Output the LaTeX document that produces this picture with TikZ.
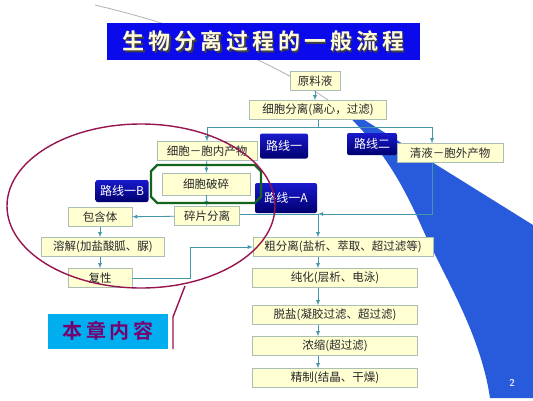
\documentclass[tikz,border=0pt]{standalone}
\usepackage{fontspec}
\newfontfamily\cjk{Noto Sans CJK SC}[BoldFont={Noto Sans CJK SC Bold}]
\newfontfamily\cjktitle{Noto Sans CJK SC Bold}[LetterSpace=18]
\usetikzlibrary{shapes.misc}
\definecolor{boxfill}{RGB}{255,255,210}
\definecolor{boxline}{RGB}{170,190,180}
\definecolor{boxtext}{RGB}{40,40,40}
\definecolor{linkcol}{RGB}{70,150,170}
\definecolor{routetop}{RGB}{25,25,205}
\definecolor{routebot}{RGB}{0,0,110}
\definecolor{ringred}{RGB}{150,20,80}
\definecolor{ringgreen}{RGB}{20,100,30}
\definecolor{swoosh}{RGB}{40,90,220}
\definecolor{titleblue}{RGB}{10,10,235}
\definecolor{titletext}{RGB}{255,250,215}
\definecolor{callout}{RGB}{120,0,110}
\begin{document}
\begin{tikzpicture}[x=1pt,y=-1pt,
  box/.style={draw=boxline,fill=boxfill,minimum height=19pt,inner sep=0pt,text=boxtext,font=\cjk\fontsize{11.5}{13}\selectfont},
  route/.style={top color=routetop,bottom color=routebot,rounded corners=2pt,inner sep=0pt,text=white,font=\cjk\fontsize{12}{13}\selectfont},
  line/.style={draw=linkcol,line width=0.8pt},
  link/.style={line,-latex}]
\useasboundingbox (0,0) rectangle (533,400);
\fill[white] (0,0) rectangle (533,400);
\fill[swoosh] (345,113) .. controls (385,150) and (405,190) .. (420,223) .. controls (440,270) and (480,330) .. (490,398) -- (533,398) -- (533,225) -- (350,111) -- cycle;
\draw[gray!60,line width=0.8pt] (95,5) .. controls (180,25) and (280,60) .. (345,113);
\node[fill=titleblue,minimum width=313pt,minimum height=37pt] (title) at (263.5,41.5) {};
\node[text=black!75,font=\cjktitle\fontsize{22}{24}\selectfont] at ([xshift=1.5pt,yshift=-1.5pt]title.center) {生物分离过程的一般流程};
\node[text=titletext,font=\cjktitle\fontsize{22}{24}\selectfont] at (title.center) {生物分离过程的一般流程};
\node[route,minimum width=48pt,minimum height=25pt] (r1) at (284,146) {路线一};
\node[route,minimum width=50pt,minimum height=22pt] (r2) at (372,144) {路线二};
\node[route,minimum width=53pt,minimum height=22pt] (r1b) at (122,191) {路线一B};
\node[route,minimum width=62pt,minimum height=30pt] (r1a) at (286,198) {路线一A};
\node[box,minimum width=50pt] (yll) at (315,81) {原料液};
\node[box,minimum width=137pt] (xbfl) at (318,110) {细胞分离(离心，过滤)};
\node[box,minimum width=100pt] (xbn) at (207,151) {细胞－胞内产物};
\node[box,minimum width=106pt] (qy) at (450,153) {清液－胞外产物};
\node[box,minimum width=88pt,minimum height=22pt] (xbps) at (206,184) {细胞破碎};
\node[box,minimum width=65pt] (spfl) at (207,216) {碎片分离};
\node[box,minimum width=64pt] (bht) at (100,217) {包含体};
\node[box,minimum width=123pt] (rj) at (103,247) {溶解(加盐酸胍、脲)};
\node[box,minimum width=64pt] (fx) at (100,278) {复性};
\node[box,minimum width=180pt] (cfl) at (343,247) {粗分离(盐析、萃取、超过滤等)};
\node[box,minimum width=165pt] (ch) at (335,278) {纯化(层析、电泳)};
\node[box,minimum width=165pt] (ty) at (335,315) {脱盐(凝胶过滤、超过滤)};
\node[box,minimum width=165pt] (ns) at (335,346) {浓缩(超过滤)};
\node[box,minimum width=165pt] (jz) at (335,378) {精制(结晶、干燥)};
\coordinate (jn) at (318,214);
\draw[link] (yll.south) -- (yll.south |- xbfl.north);
\draw[line] (xbfl.south) -- ++(0,8) coordinate (fork);
\draw[link] (fork) -| (xbn.north);
\draw[link] (fork) -| ([xshift=-18pt]qy.north);
\draw[link] (xbn) -- (xbps);
\draw[link] (xbps) -- (spfl);
\draw[link] (spfl) -- (bht);
\draw[line] (spfl.east |- jn) -- (jn);
\draw[link] ([xshift=-18pt]qy.south) |- (jn);
\draw[link] (jn) -- (jn |- cfl.north);
\draw[link] (bht) -- (rj.north -| bht);
\draw[link] (rj.south -| fx) -- (fx);
\draw[link] (fx.east) -- ++(58,0) |- (cfl.west);
\foreach \a/\b in {cfl/ch,ch/ty,ty/ns,ns/jz}
  \draw[link] (\a.south -| jn) -- (\b.north -| jn);
\node[draw=ringgreen,line width=2.2pt,chamfered rectangle,chamfered rectangle xsep=9pt,minimum width=110pt,minimum height=38pt] (oct) at (xbps) {};
\draw[ringred,line width=1.4pt] (141,206) ellipse [x radius=134pt,y radius=82pt];
\draw[ringred,line width=1.4pt] (185,286) -- (173,317) -- (173,349);
\node[fill=cyan,minimum width=120pt,minimum height=35pt,text=callout,font=\cjktitle\fontsize{20}{22}\selectfont] (bznr) at (108,331) {本章内容};
\node[text=white!85!swoosh,font=\sffamily\bfseries\fontsize{10}{12}\selectfont] (pg) at (512,383) {2};
\end{tikzpicture}
\end{document}
